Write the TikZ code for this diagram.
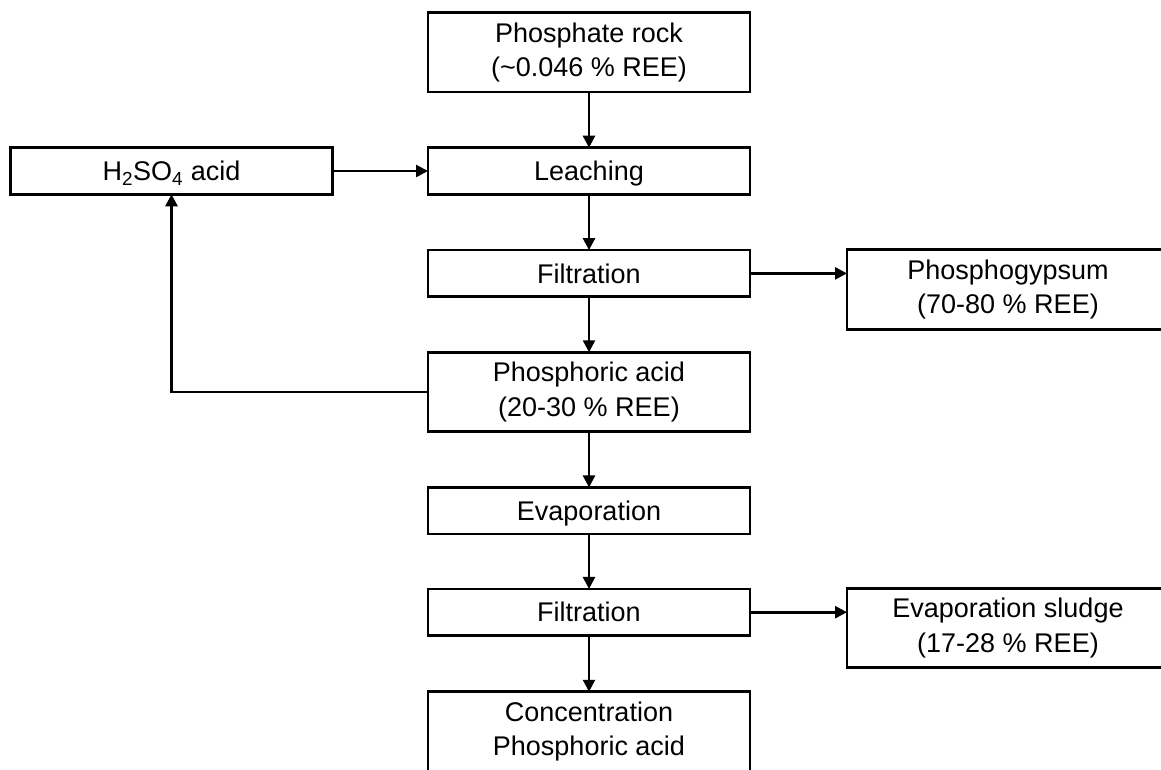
\documentclass[tikz,border=0pt]{standalone}
\usepackage{fontspec}
\setmainfont{Liberation Sans}
\usetikzlibrary{arrows.meta}
\tikzset{
  boxbase/.style={draw=black, line width=2.7pt, minimum width=322pt, inner sep=0pt, outer sep=0pt,
    font=\fontsize{27}{34.5}\selectfont, align=center},
  onebox/.style={boxbase, minimum height=46.6pt, text height=19.5pt, text depth=0pt},
  twobox/.style={boxbase, minimum height=79.5pt},
  flow/.style={line width=2.6pt, -{Triangle[length=12pt,width=12pt]}}
}
\begin{document}
\begin{tikzpicture}[x=1pt,y=-1pt]
\useasboundingbox (0,0) rectangle (1161,770);
\clip (0,0) rectangle (1161,770);
\fill[white] (0,0) rectangle (1161,770);
\node[twobox] (rock) at (589,52.3) {Phosphate rock\\(\textasciitilde0.046 \% REE)};
\node[onebox] (acid) at (171.5,171) {H\textsubscript{2}SO\textsubscript{4} acid};
\node[onebox] (leach) at (589,171) {Leaching};
\node[onebox] (filt1) at (589,273.4) {Filtration};
\node[twobox] (gyps) at (1008,289.5) {Phosphogypsum\\(70-80 \% REE)};
\node[twobox] (phos) at (589,392) {Phosphoric acid\\(20-30 \% REE)};
\node[onebox] (evap) at (589,510.7) {Evaporation};
\node[onebox] (filt2) at (589,612.2) {Filtration};
\node[twobox] (sludge) at (1008,628) {Evaporation sludge\\(17-28 \% REE)};
\node[twobox] (conc) at (589,731.5) {Concentration\\Phosphoric acid};
\draw[flow] (rock) -- (leach);
\draw[flow] (acid) -- (leach);
\draw[flow] (leach) -- (filt1);
\draw[flow] (filt1.east) -- (filt1.east -| gyps.west);
\draw[flow] (filt1) -- (phos);
\draw[flow] (phos.west) -| (acid.south);
\draw[flow] (phos) -- (evap);
\draw[flow] (evap) -- (filt2);
\draw[flow] (filt2.east) -- (filt2.east -| sludge.west);
\draw[flow] (filt2) -- (conc);
\end{tikzpicture}
\end{document}
